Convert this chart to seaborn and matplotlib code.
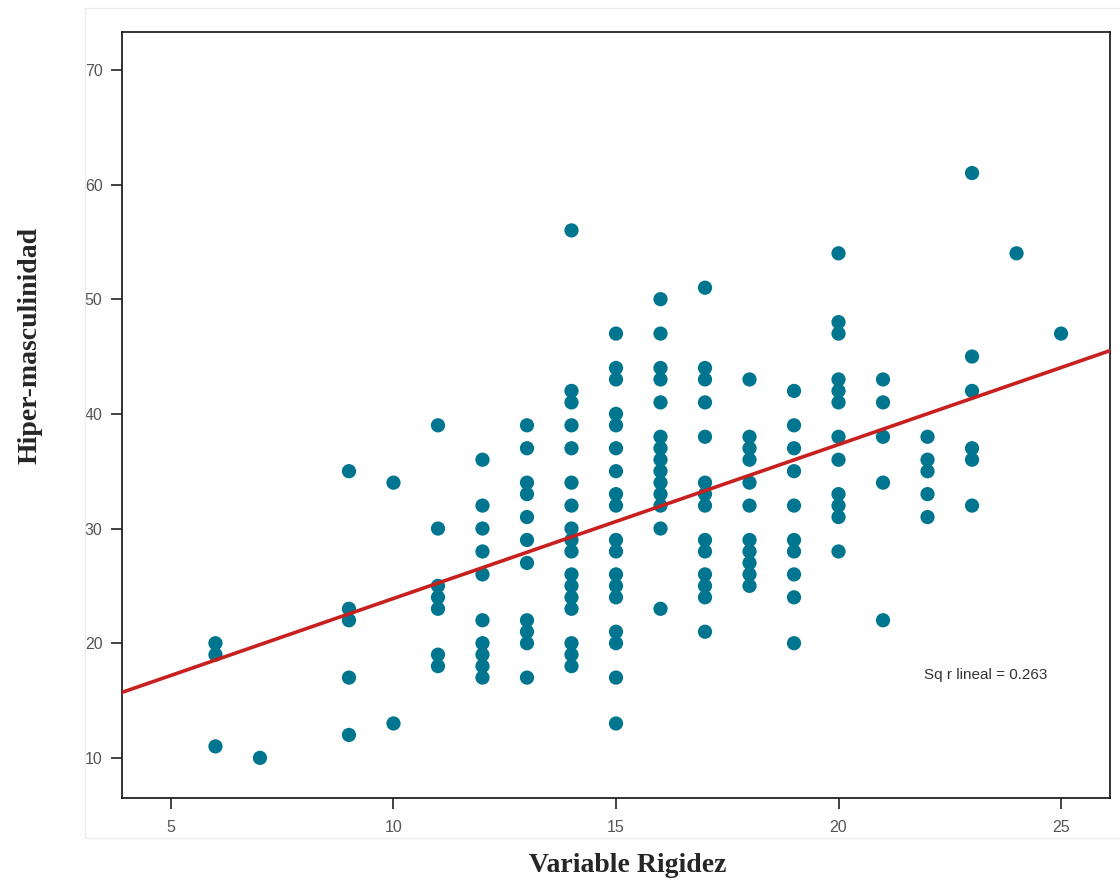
import numpy as np
import pandas as pd
import matplotlib
matplotlib.use("Agg")
import matplotlib.pyplot as plt
import seaborn as sns
from matplotlib.patches import Rectangle

# ---- data ----
rigidez_levels = [6, 7, 9, 10, 11, 12, 13, 14, 15, 16, 17, 18, 19, 20, 21, 22, 23, 24, 25]
hiper_6 = [20, 19, 11]
hiper_7 = [10]
hiper_9 = [35, 23, 22, 17, 12]
hiper_10 = [34, 13]
hiper_11 = [39, 30, 25, 24, 23, 19, 18]
hiper_12 = [36, 32, 30, 28, 26, 22, 20, 19, 18, 17]
hiper_13 = [39, 37, 34, 33, 31, 29, 27, 22, 21, 20, 17]
hiper_14 = [56, 42, 41, 39, 37, 34, 32, 30, 29, 28, 26, 25, 24, 23, 20, 19, 18]
hiper_15 = [47, 44, 43, 40, 39, 37, 35, 33, 32, 29, 28, 26, 25, 24, 21, 20, 17, 13]
hiper_16 = [50, 47, 44, 43, 41, 38, 37, 36, 35, 34, 33, 32, 30, 23]
hiper_17 = [51, 44, 43, 41, 38, 34, 33, 32, 29, 28, 26, 25, 24, 21]
hiper_18 = [43, 38, 37, 36, 34, 32, 29, 28, 27, 26, 25]
hiper_19 = [42, 39, 37, 35, 32, 29, 28, 26, 24, 20]
hiper_20 = [54, 48, 47, 43, 42, 41, 38, 36, 33, 32, 31, 28]
hiper_21 = [43, 41, 38, 34, 22]
hiper_22 = [38, 36, 35, 33, 31]
hiper_23 = [61, 45, 42, 37, 36, 32]
hiper_24 = [54]
hiper_25 = [47]
hiper_columns = [hiper_6, hiper_7, hiper_9, hiper_10, hiper_11, hiper_12, hiper_13,
                 hiper_14, hiper_15, hiper_16, hiper_17, hiper_18, hiper_19, hiper_20,
                 hiper_21, hiper_22, hiper_23, hiper_24, hiper_25]
x_ticks = [5, 10, 15, 20, 25]
y_ticks = [10, 20, 30, 40, 50, 60, 70]
r2_label = "Sq r lineal = 0.263"

rows = []
for xv, ys in zip(rigidez_levels, hiper_columns):
    for yv in ys:
        rows.append((xv, yv))
df = pd.DataFrame(rows, columns=["Variable Rigidez", "Hiper-masculinidad"])

# ---- figure ----
sns.set_theme(style="ticks")
plt.rcParams["font.family"] = ["Liberation Sans", "DejaVu Sans"]

fig = plt.figure(figsize=(11.2, 8.86), dpi=100)
# faint outer frame of the chart area
fig.patches.append(Rectangle((85 / 1120, 1 - 838 / 886), 1.2, (838 - 8) / 886,
                             transform=fig.transFigure, fill=False,
                             edgecolor="#ececec", linewidth=1.0, zorder=0))
ax = fig.add_axes([122 / 1120, 1 - 798 / 886, (1110 - 122) / 1120, (798 - 32) / 886])
ax.set_xlim(3.9, 26.1)
ax.set_ylim(6.5, 73.3)

sns.regplot(data=df, x="Variable Rigidez", y="Hiper-masculinidad", ax=ax,
            ci=None, truncate=False,
            scatter_kws=dict(s=105, color="#00758f", edgecolors="none", alpha=1, zorder=2),
            line_kws=dict(color="#c8201f", linewidth=2.6, zorder=3))

ax.set_xticks(x_ticks)
ax.set_yticks(y_ticks)
ax.tick_params(axis="both", direction="out", length=8, width=1.2, color="#222222",
               labelsize=11.5, labelcolor="#555555")
ax.tick_params(axis="y", pad=6)
ax.tick_params(axis="x", pad=8)
for sp in ax.spines.values():
    sp.set_visible(True)
    sp.set_color("#222222")
    sp.set_linewidth(1.3)

lab_font = dict(family=["Liberation Serif", "DejaVu Serif"], fontweight="bold", fontsize=20)
ax.set_xlabel("Variable Rigidez", **lab_font, va="center")
ax.set_ylabel("Hiper-masculinidad", **lab_font, va="center")
ax.xaxis.set_label_coords((628 - 122) / 988, (798 - 866) / 766)
ax.yaxis.set_label_coords((30 - 122) / 988, (798 - 345) / 766)

ax.text(23.3, 17.25, r2_label, ha="center", va="center", fontsize=11, color="#333333")

fig.savefig("out.png", dpi=100)
